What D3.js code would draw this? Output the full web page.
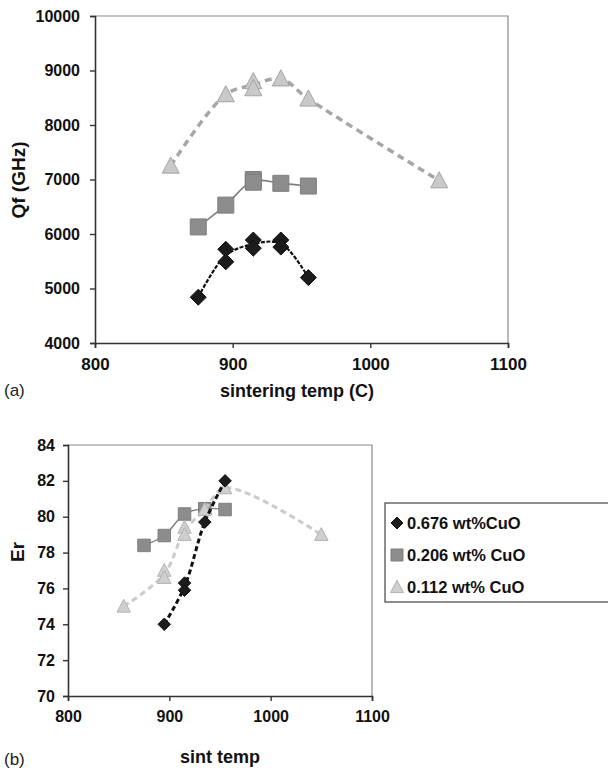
<!DOCTYPE html>
<html>
<head>
<meta charset="utf-8">
<script src="https://cdn.jsdelivr.net/npm/d3@7"></script>
<style>
  body { margin: 0; background: #fff; }
  svg { display: block; font-family: Arial, "Liberation Sans", sans-serif; }
</style>
</head>
<body>
<svg width="608" height="774"></svg>
<script>
// ---- panel (a): Qf vs sintering temp ----
const tempA = { diamond: [875, 895, 895, 915, 915, 935, 935, 955],
                square:  [875, 895, 915, 915, 935, 955],
                tri:     [855, 895, 915, 915, 935, 955, 1050] };
const qfDiamond = [4840, 5720, 5490, 5890, 5740, 5890, 5760, 5200];
const qfSquare  = [6130, 6530, 7000, 6950, 6930, 6880];
const qfTri     = [7250, 8560, 8800, 8670, 8850, 8480, 6980];

// ---- panel (b): Er vs sint temp ----
const tempB = { diamond: [895, 915, 915, 935, 955],
                square:  [875, 895, 915, 935, 955],
                tri:     [855, 895, 895, 915, 915, 935, 955, 1050] };
const erDiamond = [74.0, 76.3, 75.9, 79.7, 82.0];
const erSquare  = [78.4, 78.95, 80.15, 80.45, 80.4];
const erTri     = [75.0, 77.0, 76.6, 79.4, 79.0, 80.4, 81.6, 79.0];

const xTicks = [800, 900, 1000, 1100];
const qfTicks = [4000, 5000, 6000, 7000, 8000, 9000, 10000];
const erTicks = [70, 72, 74, 76, 78, 80, 82, 84];
const seriesNames = ['0.676 wt%CuO', '0.206 wt% CuO', '0.112 wt% CuO'];

const svg = d3.select('svg');

// pairs x,y then average duplicates at the same x for the smoothed trend line
const zipPts = (xs, ys) => xs.map((x, i) => [x, ys[i]]);
const meanByX = pts => d3.rollups(pts, v => d3.mean(v, d => d[1]), d => d[0])
    .sort((a, b) => a[0] - b[0]);

// marker path centred on 0,0
const marker = (kind, s) => {
    if (kind === 'square') return `M${-s/2},${-s/2}h${s}v${s}h${-s}Z`;
    if (kind === 'diamond') return `M0,${-s/2}L${s/2},0L0,${s/2}L${-s/2},0Z`;
    const h = s * 0.95;
    return `M0,${-h*0.55}L${s/2},${h*0.45}L${-s/2},${h*0.45}Z`;
};

function drawPanel(cfg) {
    const g = svg.append('g');
    const x = d3.scaleLinear().domain([800, 1100]).range([cfg.left, cfg.right]);
    const y = d3.scaleLinear().domain(cfg.yDomain).range([cfg.bottom, cfg.top]);

    // frame top + right
    g.append('path')
        .attr('d', `M${cfg.left},${cfg.top}H${cfg.right}V${cfg.bottom}`)
        .attr('fill', 'none').attr('stroke', '#8a8a8a').attr('stroke-width', 1.2);

    const xAxis = g.append('g')
        .attr('transform', `translate(0,${cfg.bottom})`)
        .call(d3.axisBottom(x).tickValues(xTicks).tickSize(5).tickPadding(cfg.xPad).tickFormat(d3.format('d')));
    const yAxis = g.append('g')
        .attr('transform', `translate(${cfg.left},0)`)
        .call(d3.axisLeft(y).tickValues(cfg.yTicks).tickSize(5).tickPadding(cfg.yPad).tickFormat(d3.format('d')));
    [xAxis, yAxis].forEach(a => {
        a.select('.domain').attr('stroke', '#333').attr('stroke-width', 1.6);
        a.selectAll('.tick line').attr('stroke', '#333').attr('stroke-width', 1.4);
        a.selectAll('.tick text').attr('fill', '#111').attr('font-size', 16)
            .attr('font-weight', 'bold').attr('font-family', 'Arial, "Liberation Sans", sans-serif');
    });
    xAxis.selectAll('.tick text').attr('font-size', cfg.xTickSize);

    const line = d3.line().x(d => x(d[0])).y(d => y(d[1])).curve(d3.curveCatmullRom.alpha(0.5));

    cfg.series.forEach(s => {
        const pts = zipPts(s.xs, s.ys);
        g.append('path')
            .attr('d', line(meanByX(pts)))
            .attr('fill', 'none')
            .attr('stroke', s.lineColor)
            .attr('stroke-width', s.lineWidth)
            .attr('stroke-dasharray', s.dash);
        g.selectAll(null).data(pts).enter().append('path')
            .attr('transform', d => `translate(${x(d[0])},${y(d[1])})`)
            .attr('d', marker(s.kind, s.size))
            .attr('fill', s.fill)
            .attr('stroke', s.stroke)
            .attr('stroke-width', 1);
    });

    // axis titles
    g.append('text')
        .attr('x', cfg.xTitleX).attr('y', cfg.xTitleY)
        .attr('text-anchor', 'middle').attr('font-size', 18).attr('font-weight', 'bold').attr('fill', '#111')
        .text(cfg.xTitle);
    g.append('text')
        .attr('transform', `translate(${cfg.yTitleX},${cfg.yTitleY}) rotate(-90)`)
        .attr('text-anchor', 'middle').attr('font-size', 19).attr('font-weight', 'bold').attr('fill', '#111')
        .text(cfg.yTitle);
    g.append('text')
        .attr('x', 4).attr('y', cfg.tagY)
        .attr('font-size', 17).attr('fill', '#222')
        .text(cfg.tag);
    return g;
}

drawPanel({
    left: 95, right: 508, top: 16, bottom: 343,
    yDomain: [4000, 10000], yTicks: qfTicks, xPad: 10, yPad: 10, xTickSize: 17,
    xTitle: 'sintering temp (C)', xTitleX: 297, xTitleY: 397,
    yTitle: 'Qf (GHz)', yTitleX: 25, yTitleY: 180,
    tag: '(a)', tagY: 396,
    series: [
        { xs: tempA.tri, ys: qfTri, kind: 'tri', size: 17, fill: '#c9c9c9', stroke: '#a3a3a3',
          lineColor: '#a6a6a6', lineWidth: 3.5, dash: '7,5' },
        { xs: tempA.square, ys: qfSquare, kind: 'square', size: 16, fill: '#8c8c8c', stroke: '#7f7f7f',
          lineColor: '#7f7f7f', lineWidth: 1.6, dash: null },
        { xs: tempA.diamond, ys: qfDiamond, kind: 'diamond', size: 16, fill: '#1c1c1c', stroke: '#111',
          lineColor: '#111', lineWidth: 2.2, dash: '4,1.5' }
    ]
});

drawPanel({
    left: 68, right: 372, top: 445, bottom: 696,
    yDomain: [70, 84], yTicks: erTicks, xPad: 10, yPad: 8, xTickSize: 16,
    xTitle: 'sint temp', xTitleX: 220, xTitleY: 763,
    yTitle: 'Er', yTitleX: 24, yTitleY: 552,
    tag: '(b)', tagY: 765,
    series: [
        { xs: tempB.square, ys: erSquare, kind: 'square', size: 12.5, fill: '#8c8c8c', stroke: '#7f7f7f',
          lineColor: '#7f7f7f', lineWidth: 1.4, dash: null },
        { xs: tempB.tri, ys: erTri, kind: 'tri', size: 13.5, fill: '#cfcfcf', stroke: '#b3b3b3',
          lineColor: '#cbcbcb', lineWidth: 3, dash: '6,4' },
        { xs: tempB.diamond, ys: erDiamond, kind: 'diamond', size: 12.5, fill: '#1c1c1c', stroke: '#111',
          lineColor: '#111', lineWidth: 3, dash: '5,3' }
    ]
});

// legend, runs off the right edge like the reference
const legend = svg.append('g');
legend.append('rect')
    .attr('x', 385).attr('y', 503).attr('width', 260).attr('height', 99)
    .attr('fill', '#fff').attr('stroke', '#444').attr('stroke-width', 1.2);
const legKinds = [
    { kind: 'diamond', size: 12, fill: '#1c1c1c', stroke: '#111' },
    { kind: 'square', size: 12, fill: '#8c8c8c', stroke: '#7f7f7f' },
    { kind: 'tri', size: 13, fill: '#cfcfcf', stroke: '#b3b3b3' }
];
const legY = d3.scalePoint().domain(seriesNames).range([523, 587]);
seriesNames.forEach((name, i) => {
    legend.append('path')
        .attr('transform', `translate(397,${legY(name)})`)
        .attr('d', marker(legKinds[i].kind, legKinds[i].size))
        .attr('fill', legKinds[i].fill).attr('stroke', legKinds[i].stroke);
    legend.append('text')
        .attr('x', 407).attr('y', legY(name)).attr('dy', '0.36em')
        .attr('font-size', 16.5).attr('font-weight', 'bold').attr('fill', '#111')
        .text(name);
});
</script>
</body>
</html>
